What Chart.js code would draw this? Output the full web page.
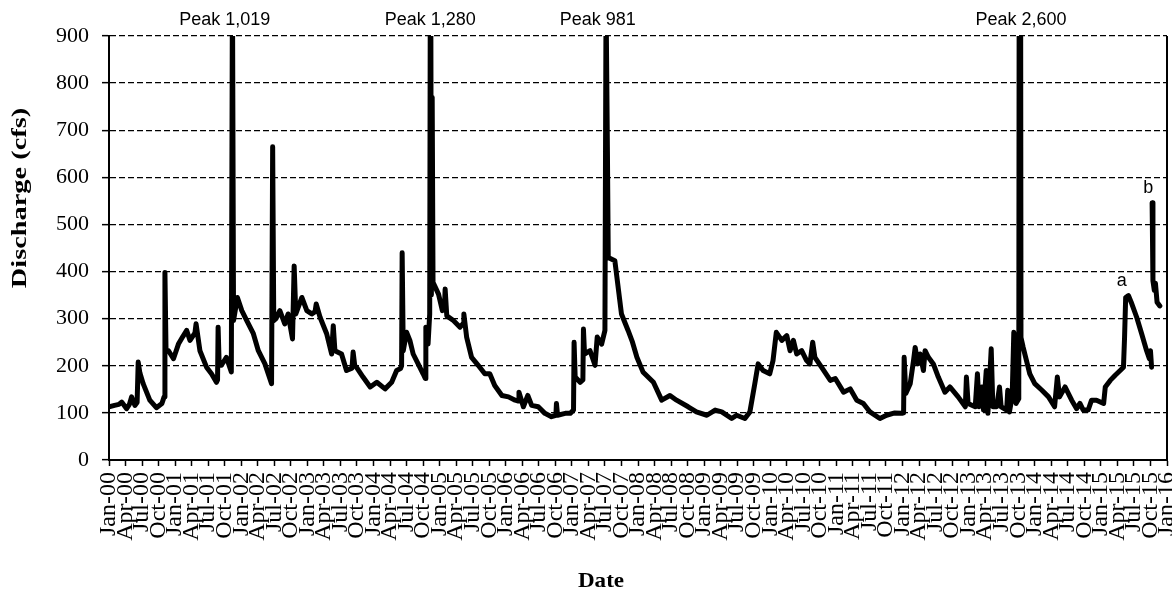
<!DOCTYPE html>
<html><head><meta charset="utf-8">
<script src="https://cdn.jsdelivr.net/npm/chart.js@4.4.0/dist/chart.umd.min.js"></script>
<style>html,body{margin:0;padding:0;background:#fff;}#wrap{width:1172px;height:593px;}</style>
</head><body><div id="wrap"><canvas id="c" width="1172" height="593"></canvas></div>
<script>
// x values: months since Jan-2000 ; y values: discharge (cfs). null = gap in record
const monthIndex = [0.0,1.0,1.8,2.3,3.2,3.7,4.1,4.7,5.1,5.3,5.6,6.2,7.4,8.6,9.6,10.0,10.15,10.35,10.8,11.7,12.6,13.4,14.1,14.7,15.6,15.8,16.5,17.7,18.6,19.5,19.7,19.8,20.0,20.4,21.3,22.2,22.4,22.6,23.3,24.1,25.0,26.2,27.1,28.3,29.5,29.7,29.9,30.3,31.0,31.9,32.5,33.3,33.6,33.9,35.0,35.9,36.8,37.4,37.6,38.3,39.5,40.4,40.7,41.0,42.2,43.1,44.1,44.3,44.6,44.9,46.1,47.4,48.6,50.1,51.3,52.2,52.9,53.1,53.2,53.4,54.0,54.6,55.2,56.1,57.0,57.4,57.5,57.9,58.2,58.35,58.5,58.65,58.8,59.8,60.5,60.9,61.0,61.3,62.5,63.7,64.3,64.4,64.9,65.8,67.0,68.2,69.1,70.0,71.3,72.5,73.7,74.3,74.4,75.2,76.0,76.7,77.9,79.1,80.3,81.1,81.2,81.4,82.8,83.7,84.3,84.4,84.6,85.5,86.0,86.1,86.3,87.3,88.2,88.6,89.4,90.0,90.2,90.45,90.6,91.8,93.0,94.2,95.0,95.8,96.9,98.8,100.3,101.8,103.0,105.1,106.6,108.5,110.0,111.2,113.0,113.9,115.4,116.3,117.2,117.8,118.7,119.9,120.5,121.1,122.1,123.0,123.6,124.2,124.8,125.7,126.6,127.2,127.7,128.1,129.3,130.9,131.8,133.3,134.5,135.7,136.9,138.1,139.9,141.1,142.6,143.9,144.2,144.3,144.6,145.4,146.0,146.3,146.8,147.2,147.8,148.1,148.7,149.6,150.5,151.7,152.6,154.1,155.4,155.6,155.9,157.2,157.6,157.9,158.4,158.7,159.2,159.5,160.1,160.4,161.1,161.6,161.9,162.9,163.1,163.4,163.9,164.2,164.6,165.1,165.3,165.5,165.9,166.5,167.1,168.0,169.3,170.5,171.6,172.1,172.5,173.5,174.7,175.6,176.2,176.8,177.7,178.3,179.2,180.5,180.8,181.7,182.6,183.5,184.1,184.3,184.5,185.0,185.5,186.5,187.4,188.3,188.8,189.0,189.2,189.25,189.3,189.45,189.7,189.9,190.2,190.7];
const discharge = [113,116,118,123,109,118,134,116,122,208,185,162,127,111,120,134,398,232,232,215,246,262,275,254,270,289,232,197,183,165,170,282,201,201,218,187,1019,296,345,317,296,268,232,204,162,665,296,300,317,289,310,257,412,310,345,317,310,315,331,303,268,225,285,232,225,190,195,229,200,197,176,155,165,151,165,190,194,200,440,232,271,254,225,204,183,173,282,246,310,1280,350,770,377,352,317,330,363,306,296,282,290,310,261,218,201,183,183,158,137,134,127,125,144,113,137,116,113,99,92,95,120,95,99,99,106,250,176,165,170,278,225,232,201,261,246,275,981,655,430,423,310,275,250,218,187,165,127,137,127,113,102,95,106,102,88,95,88,102,162,204,190,183,211,271,254,264,232,254,225,232,211,204,250,218,197,169,173,144,151,127,120,102,88,95,100,99,100,218,141,162,211,239,204,225,190,232,218,204,176,144,155,134,113,176,120,113,183,113,155,106,190,99,236,113,113,155,113,106,148,102,134,271,120,130,2600,260,239,211,183,162,148,134,113,176,134,155,127,109,120,106,106,127,127,120,155,169,180,190,197,261,345,349,335,303,268,232,215,232,197,null,546,380,360,375,335,327];
const quarterNames = ['Jan','Apr','Jul','Oct'];
const yTickValues = [0,100,200,300,400,500,600,700,800,900];
const peakLabels = ['Peak 1,019','Peak 1,280','Peak 981','Peak 2,600'];
const peakLabelMonths = [21.0, 58.3, 88.7, 165.5];
const noteLabels = ['a','b'];
const noteMonths = [183.8, 188.6];
const noteValues = [380, 577];

const points = monthIndex.map((m, i) => ({x: m, y: discharge[i]}));

const serif = '"Liberation Serif", "Times New Roman", serif';
const sans = '"Liberation Sans", Arial, sans-serif';

const annotate = {
  id: 'annotate',
  afterDraw(chart) {
    const {ctx, chartArea, scales} = chart;
    const x = scales.x, y = scales.y;
    ctx.save();
    // right frame line
    ctx.strokeStyle = '#000'; ctx.lineWidth = 2;
    ctx.beginPath(); ctx.moveTo(chartArea.right, chartArea.top); ctx.lineTo(chartArea.right, chartArea.bottom); ctx.stroke();
    ctx.fillStyle = '#000';
    ctx.font = '18px ' + sans;
    ctx.textAlign = 'center'; ctx.textBaseline = 'middle';
    peakLabels.forEach((t, i) => ctx.fillText(t, x.getPixelForValue(peakLabelMonths[i]), chartArea.top - 16));
    noteLabels.forEach((t, i) => ctx.fillText(t, x.getPixelForValue(noteMonths[i]), y.getPixelForValue(noteValues[i])));
    // axis titles
    ctx.font = 'bold 21px ' + serif;
    ctx.save();
    ctx.translate(601, 582); ctx.scale(1.1, 1);
    ctx.fillText('Date', 0, 0);
    ctx.restore();
    ctx.translate(21, 198); ctx.rotate(-Math.PI / 2); ctx.scale(1.35, 1);
    ctx.fillText('Discharge (cfs)', 0, 0);
    ctx.restore();
  }
};

new Chart(document.getElementById('c'), {
  type: 'line',
  data: { datasets: [{
    data: points, borderColor: '#000', backgroundColor: '#000', borderWidth: 5,
    pointRadius: 0, tension: 0, spanGaps: false, clip: 0,
    borderJoinStyle: 'round', borderCapStyle: 'round'
  }]},
  options: {
    responsive: false, animation: false, devicePixelRatio: 1,
    layout: { padding: { top: 36, right: 5, left: 0, bottom: 0 } },
    plugins: { legend: { display: false }, tooltip: { enabled: false } },
    scales: {
      x: {
        type: 'linear', min: 0, max: 192,
        afterFit(s) { s.height = 133; s.paddingLeft = 0; s.paddingRight = 0; },
        border: { display: true, color: '#000', width: 2 },
        grid: { drawOnChartArea: false, drawTicks: true, tickLength: 6, tickColor: '#000', tickWidth: 1.5 },
        ticks: {
          stepSize: 3, autoSkip: false, maxRotation: 90, minRotation: 90, padding: 6,
          color: '#000', font: { family: serif, size: 24 },
          callback(v) {
            const q = Math.round(v / 3) % 4;
            const yr = Math.floor(Math.round(v) / 12);
            return quarterNames[q] + '-' + String(yr).padStart(2, '0');
          }
        }
      },
      y: {
        min: 0, max: 900,
        afterFit(s) { s.width = 109; },
        afterBuildTicks(s) { s.ticks = yTickValues.map(v => ({value: v})); },
        border: { display: true, color: '#000', width: 2, dash: [6, 3] },
        grid: { color: '#000', lineWidth: 1.3, drawTicks: true, tickLength: 7, tickColor: '#000', tickWidth: 1.5, tickBorderDash: [] },
        ticks: { padding: 13, color: '#000', font: { family: serif, size: 22 } }
      }
    }
  },
  plugins: [annotate]
});
</script></body></html>
